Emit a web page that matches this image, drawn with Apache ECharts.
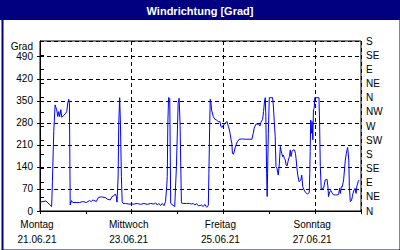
<!DOCTYPE html>
<html>
<head>
<meta charset="utf-8">
<script src="https://cdn.jsdelivr.net/npm/echarts@6/dist/echarts.min.js"></script>
<style>
html,body{margin:0;padding:0;background:#fff;}
#c{width:400px;height:250px;}
</style>
</head>
<body>
<div id="c"></div>
<script>
var titleText = 'Windrichtung [Grad]';
var yAxisName = 'Grad';
var dayLabels = ['Montag', 'Mittwoch', 'Freitag', 'Sonntag'];
var dateLabels = ['21.06.21', '23.06.21', '25.06.21', '27.06.21'];
var compassLabels = ['N', 'NE', 'E', 'SE', 'S', 'SW', 'W', 'NW', 'N', 'NE', 'E', 'SE', 'S'];

// hours since Montag 21.06.21 00:00
var hours = [
  0, 3.1, 6.1, 6.5, 7.2, 7.9, 8.75, 9.3, 9.8, 10.3, 10.9, 11.4, 12.3, 13.3, 14.0, 14.55, 15.07, 15.4, 15.8,
  16.5, 17.2, 18.9, 20.7, 22.4, 24.2, 25.9, 26.8, 27.7, 29.5, 30.5, 32.1, 34.4, 35.1, 36.8, 37.7, 38.6, 39.4,
  40.0, 40.3, 40.9, 41.2, 41.7, 42.1, 42.6, 43.0, 43.5, 44.7, 46.5, 49.1, 50.9, 52.6, 54.4, 56.1, 57.9, 59.6,
  60.5, 61.4, 62.2, 63.1, 64.0, 64.9, 65.7, 66.3, 66.6, 66.9, 67.3, 67.9, 68.4, 70.5, 71.4, 72.3, 72.8, 73.3,
  74.0, 74.9, 76.7, 78.4, 79.3, 80.2, 81.1, 81.9, 82.8, 83.7, 84.5, 85.4, 86.3, 87.2, 87.7, 88.1, 88.4, 88.8,
  89.1, 89.5, 89.8, 90.7, 91.6, 92.4, 93.3, 94.2, 94.7, 95.4, 95.9, 96.8, 97.3, 97.9, 98.6, 99.1, 99.6, 100.0,
  100.4, 100.7, 101.2, 101.6, 102.4, 103.3, 104.2, 105.9, 107.7, 109.5, 110.9, 111.6, 112.1, 113.0, 114.4,
  115.1, 115.6, 116.5, 117.0, 117.5, 117.9, 118.2, 118.6, 118.9, 119.1, 119.5, 120.0, 121.7, 122.1, 122.6,
  123.1, 123.5, 124.0, 124.7, 125.2, 125.8, 126.1, 126.5, 127.0, 127.3, 127.9, 128.4, 128.8, 129.3, 129.8,
  130.5, 131.0, 131.4, 131.9, 132.5, 133.2, 133.7, 134.0, 134.4, 134.9, 135.6, 136.5, 137.0, 137.5, 138.2,
  139.1, 140.0, 140.9, 141.2, 141.4, 141.7, 142.1, 142.4, 142.8, 143.1, 143.5, 143.8, 146.0, 146.3, 146.7,
  147.2, 147.7, 148.4, 149.3, 150.2, 150.7, 151.0, 151.6, 152.3, 152.8, 153.7, 154.5, 155.4, 156.3, 156.8,
  157.2, 157.7, 158.2, 158.9, 159.8, 160.3, 161.0, 161.6, 161.9, 162.4, 163.0, 163.5, 163.8, 164.4, 164.9,
  165.4, 165.9, 166.5, 167.0
];

var direction = [
  28, 32, 14, 93, 252, 337, 321, 300, 316, 300, 322, 298, 303, 309, 316, 343, 355, 340, 19,
  33, 27, 27, 27, 30, 27, 33, 30, 35, 30, 43, 45, 42, 38, 35, 46, 48, 54,
  46, 28, 111, 276, 360, 276, 109, 30, 24, 24, 22, 22, 24, 21, 24, 21, 24, 22,
  26, 19, 24, 17, 24, 17, 30, 77, 109, 276, 360, 358, 24, 14, 141, 342, 358, 279,
  26, 24, 24, 24, 22, 24, 19, 24, 17, 17, 19, 14, 21, 12, 14, 19, 120, 270,
  355, 342, 321, 300, 291, 289, 284, 284, 268, 266, 273, 277, 282, 284, 268, 258, 242, 226,
  215, 183, 180, 188, 207, 220, 228, 229, 228, 228, 228, 247, 263, 276, 276,
  270, 281, 291, 316, 348, 360, 300, 120, 46, 120, 247, 360, 360, 337, 284,
  236, 141, 136, 114, 146, 205, 194, 183, 173, 178, 167, 162, 146, 143, 157,
  173, 194, 173, 189, 194, 194, 183, 167, 140, 114, 93, 99, 114, 77, 67,
  58, 54, 58, 120, 189, 289, 247, 284, 226, 321, 326, 360, 360, 289, 141,
  67, 72, 72, 99, 101, 77, 46, 61, 65, 58, 51, 51, 51, 53, 72,
  56, 77, 77, 99, 162, 183, 202, 162, 77, 30, 33, 46, 56, 67, 72,
  56, 80, 93, 99
];

var FONT = 'Liberation Sans';
var chart = echarts.init(document.getElementById('c'), null, {renderer: 'svg'});
var seriesData = hours.map(function (h, i) { return [h, direction[i]]; });

chart.setOption({
  animation: false,
  backgroundColor: '#ffffff',
  textStyle: {fontFamily: FONT},
  graphic: [
    {type: 'rect', left: 0, top: 0, shape: {width: 400, height: 20}, style: {fill: '#000080'}, z: 100},
    {type: 'rect', left: 0, top: 0, shape: {x: 1, y: 1, width: 398, height: 248}, style: {fill: 'none', stroke: '#000080', lineWidth: 2}, z: 100},
    {type: 'text', x: 200, y: 11, style: {text: titleText, fill: '#ffffff', font: 'bold 11px "Liberation Sans"', textAlign: 'center', textVerticalAlign: 'middle'}, z: 101},
    {type: 'text', x: 33, y: 46, style: {text: yAxisName, fill: '#000000', font: '10px "Liberation Sans"', textAlign: 'right', textVerticalAlign: 'middle'}, z: 101}
  ],
  grid: {left: 40, right: 39, top: 41, bottom: 39, show: true, borderColor: '#000', borderWidth: 1, backgroundColor: 'transparent'},
  xAxis: [
    {
      type: 'value', min: 0, max: 168, interval: 24, position: 'bottom',
      axisLine: {show: true, lineStyle: {color: '#000', width: 1}},
      axisTick: {show: true, length: 3, inside: false, lineStyle: {color: '#000'}},
      splitLine: {show: false},
      axisLabel: {
        color: '#000', fontSize: 10, fontFamily: FONT, lineHeight: 15, margin: 6, padding: [0, 6, 0, 0],
        formatter: function (v) {
          if (v % 48 === 0 && v / 48 < dayLabels.length) {
            var i = v / 48;
            return dayLabels[i] + '\n' + dateLabels[i];
          }
          return '';
        }
      }
    },
    {
      type: 'value', min: 0, max: 168, interval: 48, position: 'top',
      axisLine: {show: false}, axisTick: {show: false}, axisLabel: {show: false},
      splitLine: {show: true, lineStyle: {color: '#000', type: [4, 3], width: 1}}
    }
  ],
  yAxis: [
    {
      type: 'value', min: 0, max: 540, interval: 70, position: 'left',
      axisLine: {show: true, lineStyle: {color: '#000'}},
      axisTick: {show: true, length: 3, lineStyle: {color: '#000'}},
      axisLabel: {color: '#000', fontSize: 10, fontFamily: FONT, margin: 7, showMaxLabel: false},
      splitLine: {show: true, lineStyle: {color: '#000', type: [4, 3], width: 1}}
    },
    {
      type: 'value', min: 0, max: 540, interval: 45, position: 'right',
      axisLine: {show: true, lineStyle: {color: '#000'}},
      axisTick: {show: true, length: 4, lineStyle: {color: '#000'}},
      axisLabel: {
        color: '#000', fontSize: 10, fontFamily: FONT, margin: 5,
        formatter: function (v) { return compassLabels[Math.round(v / 45)] || ''; }
      },
      splitLine: {show: false}
    }
  ],
  series: [{
    type: 'line', xAxisIndex: 0, yAxisIndex: 0,
    data: seriesData, showSymbol: false, symbol: 'none',
    lineStyle: {color: '#0000ff', width: 1}, z: 5
  }]
});
</script>
</body>
</html>
